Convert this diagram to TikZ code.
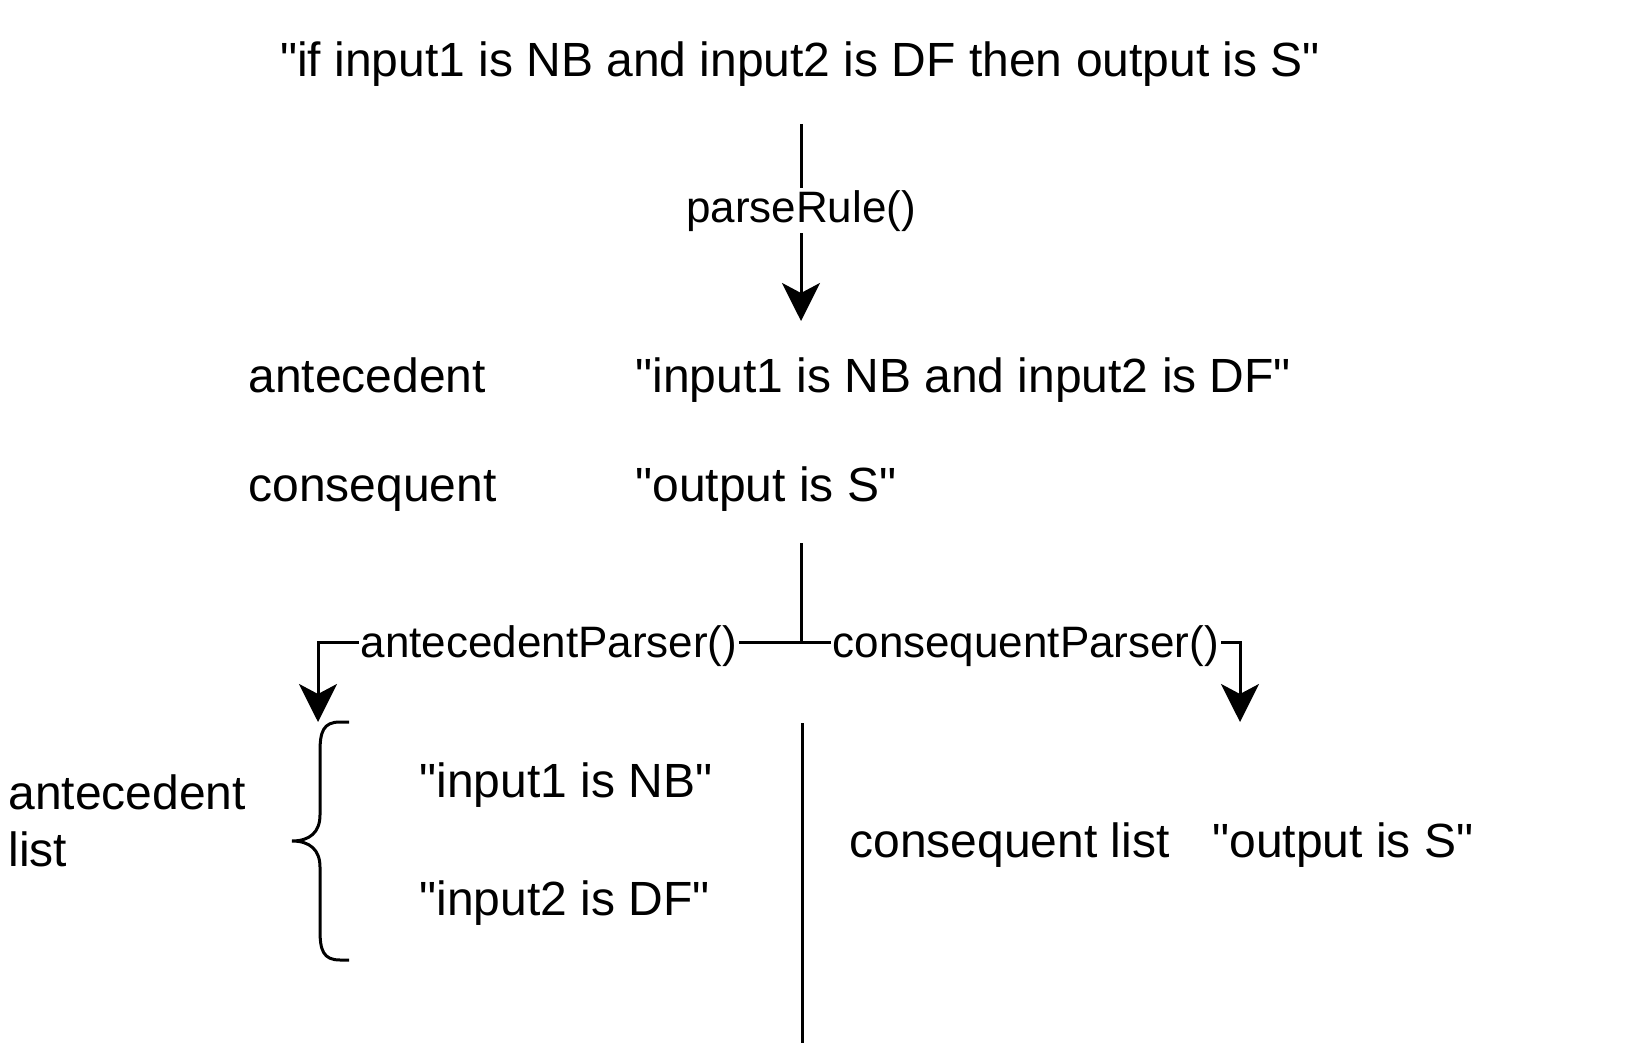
\documentclass[tikz,border=0pt]{standalone}
\usepackage{fontspec}
\setmainfont{Liberation Sans}[Ligatures=TeXOff]
\usetikzlibrary{arrows.meta,positioning}
\tikzset{
    txt/.style={
        inner sep=0pt,align=left,font=\fontsize{24}{28.8}\selectfont
    },
    lbl/.style={
        inner sep=1pt,fill=white,yshift=-2pt,font=\fontsize{22}{26.4}\selectfont
    },
    link/.style={line width=1.5pt},
    arrow/.style={
        -{Stealth[length=19pt,width=19pt,inset=5pt]},line width=1.5pt
    }
}
\begin{document}
\begin{tikzpicture}[x=0.5pt,y=-0.5pt]
\useasboundingbox (0,0) rectangle (1644,1048);

\node[txt,anchor=base] (rule) at (800,77)
{"if input1 is NB and input2 is DF then output is S"};

\node[txt,anchor=base west] (ant) at (248,392) {antecedent};
\node[txt,anchor=base west] (antstr) at (635,392)
{"input1 is NB and input2 is DF"};
\node[txt,anchor=base west] (cons) at (248,501) {consequent};
\node[txt,anchor=base west] (consstr) at (635,501) {"output is S"};

\node[txt,anchor=west] (antlist) at (8,821) {antecedent\\list};
\node[txt,anchor=base west] (in1) at (419,797) {"input1 is NB"};
\node[txt,anchor=base west] (in2) at (419,915) {"input2 is DF"};
\node[txt,anchor=base west] (conslist) at (849,857) {consequent list};
\node[txt,right=21pt of conslist] (outs) {"output is S"};

% parse step
\coordinate (r1) at (801,124);
\coordinate (r2) at (801,321);
\draw[arrow] (r1) -- node[lbl,pos=0.42] (prs) {parseRule()} (r2);

% split into the two parsers
\coordinate (s1) at (801,543);
\coordinate (s2) at (801,642);
\coordinate (al) at (318,722);
\coordinate (ar) at (1240,722);
\draw[link] (s1) -- (s2);
\draw[arrow] (s2) -| node[lbl,pos=0.261] (antp) {antecedentParser()} (al);
\draw[arrow] (s2) -| node[lbl,pos=0.256] (consp) {consequentParser()} (ar);

% brace and divider
\draw[link] (349,722) -- (340,722)
    .. controls (323,722) and (320,732) .. (320,752) -- (320,815)
    .. controls (320,832) and (310,841) .. (292,841)
    .. controls (310,841) and (320,850) .. (320,867) -- (320,930)
    .. controls (320,950) and (323,960) .. (340,960) -- (349,960);
\coordinate (d1) at (802,723);
\coordinate (d2) at (802,1043);
\draw[link] (d1) -- (d2);

\end{tikzpicture}
\end{document}
